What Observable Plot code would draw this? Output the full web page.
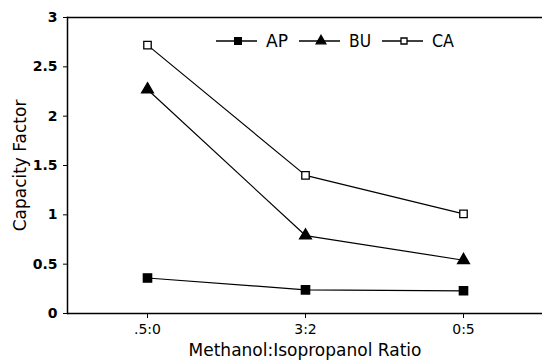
<!DOCTYPE html>
<html><head><meta charset="utf-8">
<script src="https://cdn.jsdelivr.net/npm/d3@7"></script>
<script src="https://cdn.jsdelivr.net/npm/@observablehq/plot@0.6"></script>
<style>
body{margin:0;background:#fff}
#wrap{position:relative;width:542px;height:361px}
#legend{position:absolute;left:212px;top:29px}
</style>
</head><body><div id="wrap"></div>
<script>
const ratios = [".5:0", "3:2", "0:5"];
const seriesNames = ["AP", "BU", "CA"];
const apValues = [0.36, 0.24, 0.23];
const buValues = [2.27, 0.79, 0.54];
const caValues = [2.72, 1.40, 1.01];
const yTicks = [0, 0.5, 1, 1.5, 2, 2.5, 3];

const rows = [];
[apValues, buValues, caValues].forEach((vals, i) =>
  vals.forEach((v, j) => rows.push({series: seriesNames[i], ratio: ratios[j], value: v})));

const symbols = {AP: "square", BU: "triangle", CA: "square"};
const fills = {AP: "black", BU: "black", CA: "white"};
const radii = {AP: 4.7, BU: 4.4, CA: 4.2};
const legendRadii = {AP: 3.8, BU: 3.6, CA: 3.4};

const font = "'DejaVu Sans', sans-serif";

const chart = Plot.plot({
  width: 542, height: 361,
  marginLeft: 67, marginTop: 17, marginBottom: 48, marginRight: 0,
  style: {fontFamily: font, background: "white", color: "black"},
  x: {type: "point", domain: ratios, padding: 0.5},
  y: {domain: [0, 3]},
  symbol: {type: "identity"},
  r: {type: "identity"},
  marks: [
    Plot.ruleY([0, 3], {stroke: "black", strokeWidth: 1.5}),
    Plot.frame({anchor: "left", stroke: "black", strokeWidth: 1.5}),
    Plot.axisY({ticks: yTicks, tickSize: 4, tickPadding: 6, fontSize: 14, fontWeight: "bold",
      tickFormat: d => String(d), label: null}),
    Plot.axisY({ticks: [], label: "Capacity Factor", labelAnchor: "center", labelArrow: "none",
      labelOffset: 54, fontSize: 17}),
    Plot.axisX({tickSize: 5, tickPadding: 6, fontSize: 14, label: "Methanol:Isopropanol Ratio",
      labelAnchor: "center", labelArrow: "none", labelOffset: 42}),
    Plot.line(rows, {x: "ratio", y: "value", z: "series", stroke: "black", strokeWidth: 1.2}),
    Plot.dot(rows, {x: "ratio", y: "value", symbol: d => symbols[d.series],
      fill: d => fills[d.series], stroke: "black", strokeWidth: 1.3, r: d => radii[d.series]})
  ]
});

chart.querySelectorAll("[aria-label='x-axis label'] text").forEach(t => {
  t.setAttribute("font-size", "17");
});

const wrap = document.getElementById("wrap");
wrap.appendChild(chart);

// legend
const lg = d3.select(wrap).append("svg").attr("id", "legend").attr("width", 250).attr("height", 24);
seriesNames.forEach((name, i) => {
  const g = lg.append("g").attr("transform", `translate(${i * 83},12)`);
  g.append("line").attr("x1", 4).attr("x2", 45).attr("stroke", "black").attr("stroke-width", 1.3);
  g.append("path").attr("d", d3.symbol(symbols[name] === "square" ? d3.symbolSquare : d3.symbolTriangle,
      Math.PI * legendRadii[name] * legendRadii[name])())
    .attr("transform", "translate(26,0)").attr("fill", fills[name]).attr("stroke", "black").attr("stroke-width", 1.3);
  g.append("text").attr("x", 54).attr("y", 6).attr("font-family", font).attr("font-size", 17)
    .attr("textLength", 22).attr("lengthAdjust", "spacingAndGlyphs").text(name);
});
</script>
</body></html>
